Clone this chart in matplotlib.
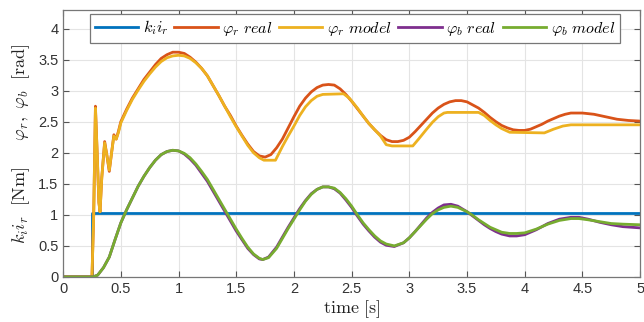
import matplotlib
matplotlib.use("Agg")
import matplotlib.pyplot as plt

plt.rcParams['mathtext.fontset'] = 'cm'
plt.rcParams['font.family'] = ['Liberation Sans', 'DejaVu Sans']

# blue: k_i i_r step
t_ki = [0.0, 0.25, 0.25, 5.0]
ki_ir = [0.0, 0.0, 1.03, 1.03]

# phi_r real
t_pr = [0, 0.25, 0.265, 0.28, 0.295, 0.31, 0.32, 0.335, 0.36, 0.38, 0.40, 0.42, 0.44, 0.46, 0.48,
        0.50, 0.55, 0.60, 0.65, 0.70, 0.75, 0.80, 0.85, 0.90, 0.95, 1.00, 1.05, 1.10, 1.15, 1.20,
        1.25, 1.30, 1.35, 1.40, 1.45, 1.50, 1.55, 1.60, 1.65, 1.70, 1.75, 1.80, 1.85, 1.90, 1.95,
        2.00, 2.05, 2.10, 2.15, 2.20, 2.25, 2.30, 2.35, 2.40, 2.45, 2.50, 2.55, 2.60, 2.65, 2.70,
        2.75, 2.80, 2.85, 2.90, 2.95, 3.00, 3.05, 3.10, 3.15, 3.20, 3.25, 3.30, 3.35, 3.40, 3.45,
        3.50, 3.55, 3.60, 3.65, 3.70, 3.75, 3.80, 3.85, 3.90, 3.95, 4.00, 4.05, 4.10, 4.15, 4.20,
        4.25, 4.30, 4.35, 4.40, 4.50, 4.60, 4.70, 4.80, 4.90, 5.00]
phi_r_real = [0, 0, 1.0, 2.75, 2.0, 1.2, 1.05, 1.6, 2.18, 1.95, 1.70, 2.0, 2.29, 2.22, 2.35,
              2.50, 2.70, 2.88, 3.03, 3.18, 3.30, 3.42, 3.52, 3.58, 3.62, 3.62, 3.60, 3.54, 3.46, 3.36,
              3.24, 3.08, 2.92, 2.75, 2.60, 2.43, 2.28, 2.14, 2.02, 1.95, 1.93, 1.97, 2.08, 2.22, 2.40,
              2.58, 2.75, 2.88, 2.98, 3.05, 3.09, 3.10, 3.09, 3.03, 2.94, 2.83, 2.71, 2.59, 2.47, 2.37,
              2.28, 2.21, 2.18, 2.18, 2.20, 2.25, 2.34, 2.44, 2.54, 2.64, 2.72, 2.78, 2.82, 2.84, 2.84,
              2.82, 2.77, 2.72, 2.65, 2.57, 2.50, 2.44, 2.40, 2.37, 2.36, 2.36, 2.38, 2.42, 2.46, 2.51,
              2.55, 2.59, 2.62, 2.64, 2.64, 2.62, 2.58, 2.54, 2.52, 2.51]

# phi_r model
t_pm = [0, 0.25, 0.265, 0.28, 0.295, 0.31, 0.32, 0.335, 0.36, 0.38, 0.40, 0.42, 0.44, 0.46, 0.48,
        0.50, 0.55, 0.60, 0.65, 0.70, 0.75, 0.80, 0.85, 0.90, 0.95, 1.00, 1.05, 1.10, 1.15, 1.20,
        1.25, 1.30, 1.35, 1.40, 1.45, 1.50, 1.55, 1.60, 1.65, 1.70, 1.74, 1.84, 1.90, 1.95,
        2.00, 2.05, 2.10, 2.15, 2.20, 2.25, 2.43, 2.48, 2.55, 2.60, 2.65, 2.70,
        2.75, 2.80, 2.85, 3.03, 3.08, 3.15, 3.20, 3.25, 3.30, 3.33, 3.60, 3.65, 3.70, 3.75,
        3.80, 3.87, 4.17, 4.25, 4.33, 4.40, 5.00]
phi_r_model = [0, 0, 1.0, 2.72, 2.0, 1.2, 1.05, 1.6, 2.16, 1.95, 1.72, 2.0, 2.27, 2.22, 2.33,
               2.48, 2.68, 2.86, 3.01, 3.15, 3.27, 3.38, 3.47, 3.53, 3.56, 3.57, 3.56, 3.52, 3.45, 3.36,
               3.24, 3.08, 2.92, 2.75, 2.58, 2.42, 2.27, 2.12, 2.00, 1.92, 1.88, 1.88, 2.10, 2.27,
               2.43, 2.60, 2.74, 2.84, 2.91, 2.94, 2.95, 2.88, 2.72, 2.59, 2.47, 2.37,
               2.27, 2.13, 2.11, 2.11, 2.22, 2.38, 2.49, 2.58, 2.64, 2.65, 2.65, 2.60, 2.52, 2.45,
               2.39, 2.33, 2.32, 2.38, 2.43, 2.45, 2.45]

# phi_b real / model
t_pb = [0, 0.26, 0.30, 0.35, 0.40, 0.45, 0.50, 0.55, 0.60, 0.65, 0.70, 0.75, 0.80, 0.85, 0.90,
        0.95, 1.00, 1.05, 1.10, 1.15, 1.20, 1.25, 1.30, 1.35, 1.40, 1.45, 1.50, 1.55, 1.60, 1.65,
        1.70, 1.73, 1.78, 1.85, 1.90, 1.95, 2.00, 2.05, 2.10, 2.15, 2.20, 2.25, 2.30, 2.35, 2.40,
        2.45, 2.50, 2.55, 2.60, 2.65, 2.70, 2.75, 2.80, 2.87, 2.95, 3.00, 3.05, 3.10, 3.15, 3.20,
        3.25, 3.30, 3.36, 3.42, 3.50, 3.55, 3.60, 3.65, 3.70, 3.75, 3.80, 3.87, 3.93, 4.00, 4.10,
        4.20, 4.30, 4.40, 4.47, 4.55, 4.65, 4.75, 4.85, 5.00]
phi_b_real = [0, 0, 0.03, 0.15, 0.32, 0.60, 0.87, 1.08, 1.27, 1.46, 1.62, 1.76, 1.88, 1.97, 2.02,
              2.04, 2.03, 1.98, 1.90, 1.80, 1.67, 1.54, 1.38, 1.22, 1.06, 0.90, 0.74, 0.60, 0.46, 0.36,
              0.29, 0.28, 0.32, 0.48, 0.64, 0.80, 0.95, 1.10, 1.23, 1.34, 1.41, 1.45, 1.45, 1.42, 1.35,
              1.24, 1.12, 0.98, 0.85, 0.74, 0.64, 0.56, 0.51, 0.49, 0.55, 0.63, 0.73, 0.84, 0.95, 1.04,
              1.11, 1.16, 1.17, 1.14, 1.05, 0.98, 0.91, 0.84, 0.78, 0.73, 0.69, 0.66, 0.66, 0.68, 0.76,
              0.86, 0.93, 0.96, 0.96, 0.93, 0.88, 0.84, 0.81, 0.79]
phi_b_model = [0, 0, 0.03, 0.15, 0.32, 0.60, 0.87, 1.08, 1.27, 1.46, 1.62, 1.76, 1.88, 1.97, 2.02,
               2.04, 2.03, 1.99, 1.92, 1.82, 1.70, 1.57, 1.41, 1.25, 1.09, 0.93, 0.77, 0.62, 0.48, 0.37,
               0.30, 0.28, 0.31, 0.46, 0.62, 0.78, 0.93, 1.08, 1.22, 1.33, 1.41, 1.45, 1.45, 1.43, 1.36,
               1.26, 1.14, 1.00, 0.87, 0.76, 0.66, 0.58, 0.53, 0.50, 0.55, 0.63, 0.73, 0.83, 0.93, 1.02,
               1.08, 1.12, 1.14, 1.12, 1.05, 0.99, 0.92, 0.86, 0.80, 0.76, 0.72, 0.70, 0.70, 0.71, 0.77,
               0.85, 0.91, 0.94, 0.94, 0.92, 0.89, 0.86, 0.85, 0.84]

labels = [r'$k_i i_r$', r'$\varphi_r\ real$', r'$\varphi_r\ model$',
          r'$\varphi_b\ real$', r'$\varphi_b\ model$']
colors = ['#0072BD', '#D95319', '#EDB120', '#7E2F8E', '#77AC30']

fig = plt.figure(figsize=(6.44, 3.22), dpi=100)
ax = fig.add_axes([0.098, 0.14, 0.896, 0.829])

lw = 2.0
ax.plot(t_ki, ki_ir, color=colors[0], lw=lw, label=labels[0])
ax.plot(t_pr, phi_r_real, color=colors[1], lw=lw, label=labels[1])
ax.plot(t_pm, phi_r_model, color=colors[2], lw=lw, label=labels[2])
ax.plot(t_pb, phi_b_real, color=colors[3], lw=lw, label=labels[3])
ax.plot(t_pb, phi_b_model, color=colors[4], lw=lw, label=labels[4])

ax.set_xlim(0, 5)
ax.set_ylim(0, 4.3)
ax.set_xticks([0, 0.5, 1, 1.5, 2, 2.5, 3, 3.5, 4, 4.5, 5])
ax.set_xticklabels(['0', '0.5', '1', '1.5', '2', '2.5', '3', '3.5', '4', '4.5', '5'])
ax.set_yticks([0, 0.5, 1, 1.5, 2, 2.5, 3, 3.5, 4])
ax.set_yticklabels(['0', '0.5', '1', '1.5', '2', '2.5', '3', '3.5', '4'])
ax.grid(True, color='#e4e4e4', lw=0.8)
ax.set_axisbelow(True)
ax.tick_params(direction='in', top=True, right=True, length=4, width=0.8,
               colors='#555555', labelcolor='#333333', labelsize=10.5)
for s in ax.spines.values():
    s.set_color('#777777')
    s.set_linewidth(0.9)

ax.set_xlabel(r'$\mathrm{time\ [s]}$', fontsize=13, color='#222222', labelpad=2)
ax.set_ylabel(r'$k_i i_r\ \ \mathrm{[Nm]}\quad\ \ \varphi_r,\ \varphi_b\ \ \mathrm{[rad]}$',
              fontsize=13, color='#222222', labelpad=4)

leg = ax.legend(loc='upper center', bbox_to_anchor=(0.506, 0.985), ncol=5, fontsize=11.5,
                frameon=True, fancybox=False, edgecolor='#777777', framealpha=1,
                handlelength=2.7, handletextpad=0.3, columnspacing=0.4, borderpad=0.3,
                borderaxespad=0)
leg.get_frame().set_linewidth(0.9)

fig.savefig('out.png', dpi=100)
